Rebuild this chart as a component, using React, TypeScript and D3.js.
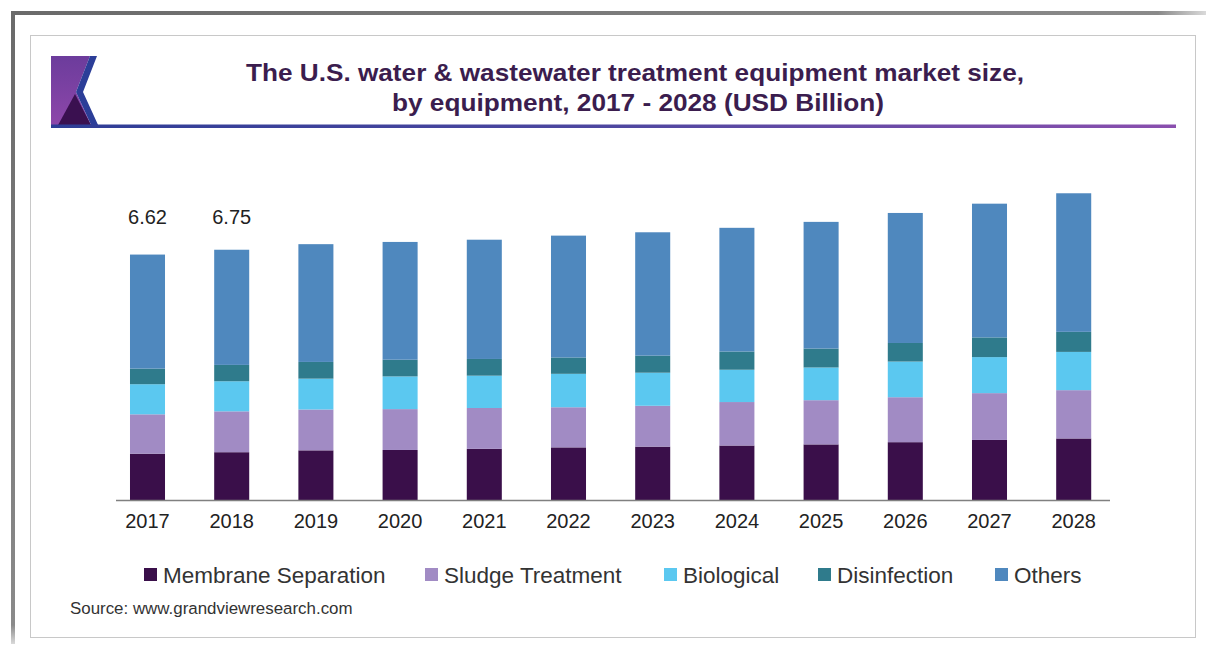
import React from "react";
import * as d3 from "d3";

const years = ["2017","2018","2019","2020","2021","2022","2023","2024","2025","2026","2027","2028"];
const membraneSeparation = [1.26, 1.30, 1.35, 1.36, 1.39, 1.43, 1.45, 1.48, 1.51, 1.57, 1.63, 1.67];
const sludgeTreatment = [1.06, 1.10, 1.10, 1.10, 1.10, 1.08, 1.10, 1.17, 1.19, 1.21, 1.26, 1.30];
const biological = [0.81, 0.81, 0.83, 0.88, 0.87, 0.90, 0.89, 0.87, 0.88, 0.96, 0.97, 1.03];
const disinfection = [0.42, 0.44, 0.45, 0.45, 0.45, 0.44, 0.46, 0.49, 0.51, 0.50, 0.53, 0.54];
const others = [3.07, 3.10, 3.17, 3.17, 3.21, 3.28, 3.32, 3.33, 3.41, 3.50, 3.60, 3.73];
const valueLabels = ["6.62", "6.75", "", "", "", "", "", "", "", "", "", ""];

const seriesNames = ["Membrane Separation", "Sludge Treatment", "Biological", "Disinfection", "Others"];
const seriesColors = ["#3a0f4a", "#a18bc4", "#5bc8f0", "#2f7b8c", "#4f88be"];
const titleLines = [
  "The U.S. water & wastewater treatment equipment market size,",
  "by equipment, 2017 - 2028 (USD Billion)",
];
const sourceText = "Source: www.grandviewresearch.com";

const FONT = "Liberation Sans, Arial, Helvetica, sans-serif";

export default function App() {
  const W = 1214, H = 650;
  const baseY = 500.5;
  const x = d3.scaleBand<string>().domain(years).range([105.4, 1115.8]).paddingInner(0.584).paddingOuter(0.292);
  const y = d3.scaleLinear().domain([0, 8.5]).range([baseY, baseY - 8.5 * 37.15]);

  const keys = ["m", "s", "b", "d", "o"];
  const table = years.map((yr, i) => ({
    year: yr,
    m: membraneSeparation[i],
    s: sludgeTreatment[i],
    b: biological[i],
    d: disinfection[i],
    o: others[i],
  }));
  const stacked = d3.stack<any>().keys(keys)(table);

  const legendX = [144, 425, 664, 818, 995];
  const titleLayout = [
    { x: 635, y: 81, len: 778 },
    { x: 638, y: 111, len: 492 },
  ];

  return (
    <svg width={W} height={H} style={{ position: "absolute", left: 0, top: 0, background: "#fff" }} fontFamily={FONT}>
      <defs>
        <linearGradient id="topShade" x1="0" x2="1" y1="0" y2="0">
          <stop offset="0" stopColor="#6a6a6a" />
          <stop offset="0.96" stopColor="#8a8a8a" />
          <stop offset="1" stopColor="#dadada" />
        </linearGradient>
        <linearGradient id="leftShade" x1="0" x2="0" y1="0" y2="1">
          <stop offset="0" stopColor="#6a6a6a" />
          <stop offset="0.97" stopColor="#8a8a8a" />
          <stop offset="1" stopColor="#dadada" />
        </linearGradient>
        <linearGradient id="headLine" x1="0" x2="1" y1="0" y2="0">
          <stop offset="0" stopColor="#2e3d96" />
          <stop offset="0.5" stopColor="#4e47a0" />
          <stop offset="1" stopColor="#8a4fae" />
        </linearGradient>
        <linearGradient id="logoPurple" x1="0" x2="0" y1="0" y2="1">
          <stop offset="0" stopColor="#6c3c9c" />
          <stop offset="1" stopColor="#8e47aa" />
        </linearGradient>
      </defs>

      {/* outer frame shading */}
      <rect x={11} y={11} width={1195} height={4} fill="url(#topShade)" />
      <rect x={11} y={11} width={4} height={633} fill="url(#leftShade)" />

      {/* inner box */}
      <rect x={30.5} y={35.5} width={1165} height={602} fill="#fff" stroke="#c8c8c8" strokeWidth={1} />

      {/* logo */}
      <polygon points="51,56 90,56 76,92 92,127 51,127" fill="url(#logoPurple)" />
      <polygon points="57,127 75,94 92,127" fill="#3a1050" />
      <polygon points="90,56 97,56 83,92 99,127 92,127 76,92" fill="#2c3e98" />
      <rect x={51} y={124.5} width={1125} height={3.5} fill="url(#headLine)" />

      {/* title */}
      {titleLines.map((t, i) => (
        <text
          key={i}
          x={titleLayout[i].x}
          y={titleLayout[i].y}
          textAnchor="middle"
          fontSize={24}
          fontWeight="bold"
          fill="#3b1d4e"
          textLength={titleLayout[i].len}
          lengthAdjust="spacingAndGlyphs"
        >
          {t}
        </text>
      ))}

      {/* bars */}
      {stacked.map((layer, li) => (
        <g key={li} fill={seriesColors[li]}>
          {layer.map((seg: any, i: number) => (
            <rect
              key={i}
              x={x(years[i])}
              y={y(seg[1])}
              width={x.bandwidth()}
              height={y(seg[0]) - y(seg[1])}
            />
          ))}
        </g>
      ))}

      {/* axis */}
      <line x1={116} x2={1110} y1={baseY} y2={baseY} stroke="#808080" strokeWidth={1.5} />
      {years.map((yr) => (
        <text key={yr} x={(x(yr) as number) + x.bandwidth() / 2} y={527.5} textAnchor="middle" fontSize={20} fill="#222">
          {yr}
        </text>
      ))}

      {/* value labels */}
      {valueLabels.map((v, i) =>
        v ? (
          <text key={i} x={(x(years[i]) as number) + x.bandwidth() / 2} y={224} textAnchor="middle" fontSize={20} fill="#222">
            {v}
          </text>
        ) : null
      )}

      {/* legend */}
      {seriesNames.map((n, i) => (
        <g key={n} transform={`translate(${legendX[i]},0)`}>
          <rect x={0} y={568} width={13} height={13} fill={seriesColors[i]} />
          <text x={19} y={582.5} fontSize={22.5} fill="#333">
            {n}
          </text>
        </g>
      ))}

      {/* source */}
      <text x={70} y={614} fontSize={16.9} fill="#333">
        {sourceText}
      </text>
    </svg>
  );
}
